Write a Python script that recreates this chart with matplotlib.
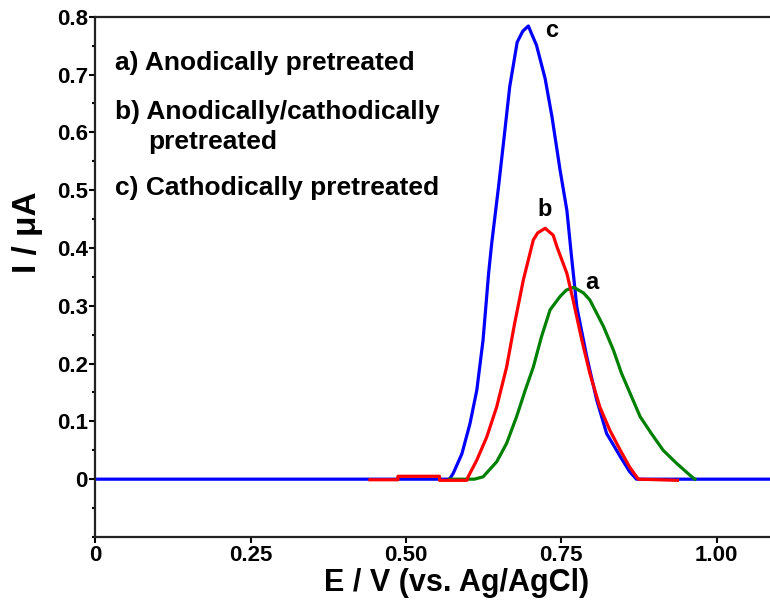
import matplotlib.pyplot as plt
from matplotlib.ticker import MultipleLocator, FixedLocator

plt.rcParams['font.family'] = ['Liberation Sans', 'DejaVu Sans']
plt.rcParams['font.weight'] = 'bold'

# ---------------------------
# data
# ---------------------------
# c) cathodically pretreated (blue)
e_c = [0.0, 0.570, 0.576, 0.590, 0.603, 0.614, 0.624, 0.633, 0.638, 0.649, 0.658, 0.667,
       0.679, 0.688, 0.697, 0.702, 0.710, 0.724, 0.735, 0.748, 0.759, 0.766, 0.775, 0.791,
       0.807, 0.823, 0.845, 0.860, 0.871, 1.086]
i_c = [0.0, 0.0, 0.010, 0.044, 0.096, 0.154, 0.240, 0.356, 0.408, 0.506, 0.592, 0.679,
       0.756, 0.775, 0.784, 0.771, 0.751, 0.693, 0.627, 0.535, 0.465, 0.390, 0.298, 0.212,
       0.137, 0.079, 0.039, 0.013, 0.0, 0.0]

# a) anodically pretreated (green)
e_a = [0.570, 0.610, 0.624, 0.646, 0.662, 0.678, 0.692, 0.705, 0.718, 0.732, 0.748, 0.758,
       0.770, 0.786, 0.796, 0.818, 0.834, 0.847, 0.861, 0.877, 0.895, 0.914, 0.936, 0.957,
       0.965]
i_a = [0.0, 0.0, 0.004, 0.030, 0.062, 0.108, 0.154, 0.194, 0.246, 0.293, 0.316, 0.327,
       0.332, 0.322, 0.310, 0.264, 0.223, 0.183, 0.148, 0.108, 0.079, 0.050, 0.027, 0.007,
       0.0]

# b) anodically/cathodically pretreated (red)
e_b = [0.442, 0.487, 0.487, 0.554, 0.554, 0.598, 0.600, 0.614, 0.630, 0.646, 0.662, 0.675,
       0.689, 0.705, 0.712, 0.724, 0.737, 0.743, 0.759, 0.769, 0.783, 0.796, 0.812, 0.828,
       0.845, 0.860, 0.874, 0.937]
i_b = [-0.001, -0.001, 0.005, 0.005, -0.002, -0.002, 0.004, 0.033, 0.073, 0.125, 0.194, 0.270,
       0.345, 0.414, 0.426, 0.434, 0.422, 0.402, 0.356, 0.310, 0.241, 0.183, 0.125, 0.085,
       0.050, 0.021, 0.0, -0.002]

x_ticks = [0, 0.25, 0.50, 0.75, 1.00]
x_labels = ["0", "0.25", "0.50", "0.75", "1.00"]
y_ticks = [0, 0.1, 0.2, 0.3, 0.4, 0.5, 0.6, 0.7, 0.8]
y_labels = ["0", "0.1", "0.2", "0.3", "0.4", "0.5", "0.6", "0.7", "0.8"]

# ---------------------------
# figure
# ---------------------------
fig = plt.figure(figsize=(7.7, 6.06), dpi=100)
ax = fig.add_axes([0.1239, 0.1139, 0.8761, 0.8585])

ax.plot(e_c, i_c, color='#0000ff', lw=2.3, zorder=2)
ax.plot(e_a, i_a, color='#008000', lw=2.3, zorder=3)
ax.plot(e_b, i_b, color='#ff0000', lw=2.3, zorder=4)

ax.set_xlim(0, 1.086)
ax.set_ylim(-0.1, 0.8)

ax.xaxis.set_major_locator(FixedLocator(x_ticks))
ax.set_xticklabels(x_labels)
ax.set_yticks(y_ticks)
ax.set_yticklabels(y_labels)
ax.yaxis.set_minor_locator(MultipleLocator(0.05))

ax.tick_params(axis='both', which='major', direction='out', length=4, width=1.5,
               labelsize=16, pad=1.5)
ax.tick_params(axis='y', which='minor', direction='out', length=2.5, width=1.5)

for s in ['left', 'bottom', 'top']:
    ax.spines[s].set_linewidth(1.6)
    ax.spines[s].set_color('#222222')
ax.spines['right'].set_visible(False)

ax.set_xlabel("E / V (vs. Ag/AgCl)", fontsize=22, fontweight='bold', va='center')
ax.xaxis.set_label_coords(0.535, -0.088)
ax.set_ylabel("I / μA", fontsize=24, fontweight='bold', va='center')
ax.yaxis.set_label_coords(-0.101, 0.586)

# legend-like text
ax.text(0.029, 0.911, "a) Anodically pretreated", transform=ax.transAxes,
        fontsize=19, fontweight='bold', va='center')
ax.text(0.029, 0.817, "b) Anodically/cathodically", transform=ax.transAxes,
        fontsize=19, fontweight='bold', va='center')
ax.text(0.078, 0.759, "pretreated", transform=ax.transAxes,
        fontsize=19, fontweight='bold', va='center')
ax.text(0.029, 0.671, "c) Cathodically pretreated", transform=ax.transAxes,
        fontsize=19, fontweight='bold', va='center')

# peak labels
ax.text(0.735, 0.777, "c", fontsize=17, fontweight='bold', ha='center', va='center')
ax.text(0.724, 0.466, "b", fontsize=17, fontweight='bold', ha='center', va='center')
ax.text(0.799, 0.341, "a", fontsize=17, fontweight='bold', ha='center', va='center')

fig.savefig("out.png", dpi=100)
